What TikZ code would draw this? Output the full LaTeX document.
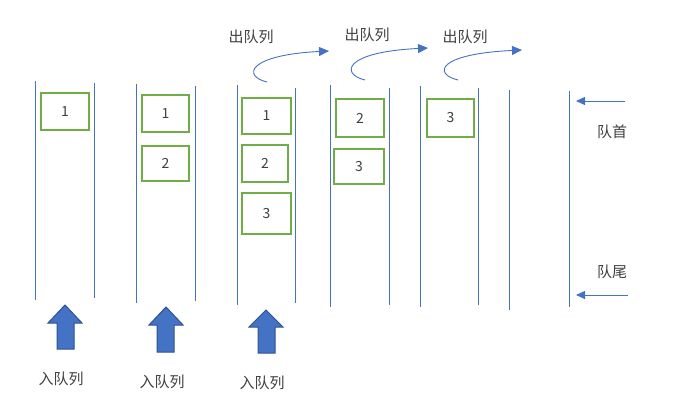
\documentclass[tikz,border=0pt]{standalone}
\usepackage{fontspec}
\setmainfont{Noto Sans CJK SC}
\usetikzlibrary{arrows.meta,shapes.arrows}
\definecolor{qblue}{HTML}{4472C4}
\definecolor{qdark}{HTML}{2F528F}
\definecolor{qgreen}{HTML}{70AD47}
\definecolor{qtext}{HTML}{404040}
\begin{document}
\begin{tikzpicture}[x=1pt,y=-1pt,
  wall/.style={draw=qblue,line width=0.9pt},
  item/.style={draw=qgreen,line width=2.4pt,inner sep=0pt,text=qtext,font=\fontsize{14}{14}\selectfont},
  lbl/.style={text=qtext,font=\fontsize{15}{15}\selectfont,inner sep=0pt},
  outarrow/.style={draw=qblue,line width=0.9pt,-{Triangle[length=10pt,width=9pt]}},
  ptr/.style={draw=qblue,line width=0.9pt,-{Triangle[length=9pt,width=8pt]}},
  inarrow/.style={draw=qdark,fill=qblue,line width=1pt}]
\useasboundingbox (0,0) rectangle (679,416);
% queue walls
\draw[wall] (35,81) -- (35,300);   \draw[wall] (94,83) -- (94,298);
\draw[wall] (136,84) -- (136,303); \draw[wall] (195,86) -- (195,301);
\draw[wall] (237,85) -- (237,305); \draw[wall] (295,88) -- (295,303);
\draw[wall] (330,85) -- (330,307); \draw[wall] (389,88) -- (389,305);
\draw[wall] (420,86) -- (420,307); \draw[wall] (478,88) -- (478,305);
\draw[wall] (509,90) -- (509,310); \draw[wall] (569,91) -- (569,307);
% items
\node[item,minimum width=48pt,minimum height=37pt] (a1) at (65,111.5) {1};
\node[item,minimum width=47pt,minimum height=37pt] (b1) at (165.5,113.5) {1};
\node[item,minimum width=47pt,minimum height=35pt] (b2) at (165.5,163.5) {2};
\node[item,minimum width=49pt,minimum height=36pt] (c1) at (266.5,116) {1};
\node[item,minimum width=46pt,minimum height=37pt] (c2) at (265,163.5) {2};
\node[item,minimum width=49pt,minimum height=41pt] (c3) at (266.5,213.5) {3};
\node[item,minimum width=48pt,minimum height=38pt] (d1) at (360,118) {2};
\node[item,minimum width=50pt,minimum height=35pt] (d2) at (359,166.5) {3};
\node[item,minimum width=47pt,minimum height=38pt] (e1) at (450.5,118) {3};
% dequeue labels and arrows
\node[lbl] (o1) at (251,37) {出队列};
\node[lbl] (o2) at (367,35) {出队列};
\node[lbl] (o3) at (465,37) {出队列};
\coordinate (s1) at (267,82); \coordinate (t1) at (329,51);
\coordinate (s2) at (365,80); \coordinate (t2) at (428,48);
\coordinate (s3) at (458,80); \coordinate (t3) at (522,50);
\draw[outarrow] (s1) .. controls (242,76) and (248,55) .. (t1);
\draw[outarrow] (s2) .. controls (340,74) and (344,52) .. (t2);
\draw[outarrow] (s3) .. controls (433,74) and (437,54) .. (t3);
% head / tail pointers
\coordinate (h0) at (625,101); \coordinate (h1) at (576,101);
\coordinate (r0) at (628,295); \coordinate (r1) at (576,295);
\draw[ptr] (h0) -- (h1);
\draw[ptr] (r0) -- (r1);
\node[lbl] (head) at (612,132) {队首};
\node[lbl] (tail) at (612,272) {队尾};
% enqueue arrows
\draw[inarrow] (65,305) -- (82,323) -- (74,323) -- (74,349) -- (57,349) -- (57,323) -- (48,323) -- cycle;
\draw[inarrow] (166,307) -- (183,325) -- (174,325) -- (174,352) -- (157,352) -- (157,325) -- (149,325) -- cycle;
\draw[inarrow] (266,310) -- (283,327) -- (275,327) -- (275,353) -- (258,353) -- (258,327) -- (249,327) -- cycle;
\node[lbl] (i1) at (61,379) {入队列};
\node[lbl] (i2) at (162,382) {入队列};
\node[lbl] (i3) at (262,383) {入队列};
\end{tikzpicture}
\end{document}
